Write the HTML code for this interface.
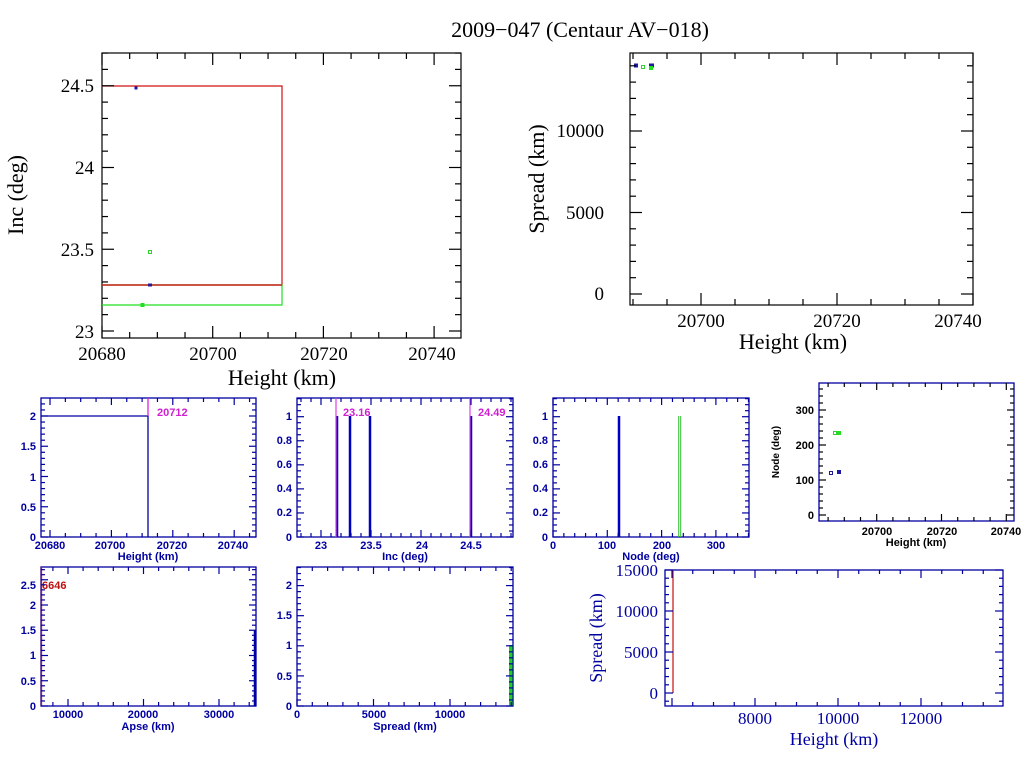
<!DOCTYPE html>
<html><head><meta charset="utf-8"><style>
body{margin:0;background:#fff}
svg{display:block}
.t{font-family:"Liberation Serif",serif;fill:#000}
.s{font-family:"Liberation Sans",sans-serif;font-weight:bold;font-size:11px;fill:#0000a0}
</style></head><body>
<svg id="c" width="1024" height="768" viewBox="0 0 1024 768" xmlns="http://www.w3.org/2000/svg">
<rect width="1024" height="768" fill="#fff"/>
<text class="t" x="580" y="37" font-size="22" text-anchor="middle">2009−047 (Centaur AV−018)</text>

<!-- top left -->
<rect x="102" y="53" width="359" height="285" fill="none" stroke="#000" stroke-width="1.2"/>
<polyline points="102,86 282,86 282,285 102,285" fill="none" stroke="#d01010" stroke-width="1.2"/>
<polyline points="102,285 282,285 282,305 102,305" fill="none" stroke="#20e020" stroke-width="1.2"/>
<line x1="102" y1="285" x2="282" y2="285" stroke="#d01010" stroke-width="1.2"/>
<rect x="134.5" y="86.5" width="3" height="3" fill="#1a1aa0"/>
<rect x="148.5" y="250.5" width="3" height="3" fill="none" stroke="#30d030" stroke-width="1"/>
<rect x="148" y="283.5" width="4" height="3" fill="#2a1a90"/>
<rect x="140.5" y="303" width="4" height="4" fill="#20e020"/>
<g class="t" font-size="19" text-anchor="end">
<text x="94" y="92">24.5</text><text x="94" y="174">24</text><text x="94" y="256">23.5</text><text x="94" y="338">23</text></g>
<g class="t" font-size="19" text-anchor="middle">
<text x="102" y="360">20680</text><text x="213" y="360">20700</text><text x="324" y="360">20720</text><text x="432" y="360">20740</text></g>
<text class="t" font-size="22" x="282" y="385" text-anchor="middle">Height (km)</text>
<text class="t" font-size="22" transform="translate(23,195) rotate(-90)" text-anchor="middle">Inc (deg)</text>

<!-- top right -->
<rect x="630" y="53" width="343" height="252" fill="none" stroke="#000" stroke-width="1.2"/>
<rect x="634" y="63.5" width="4" height="4" fill="#1a1aa0"/>
<rect x="649" y="63.5" width="5" height="4" fill="#1a1aa0"/>
<rect x="641.5" y="65.5" width="3" height="3" fill="none" stroke="#30d030" stroke-width="1"/>
<rect x="649" y="66" width="4" height="4" fill="#20e020"/>
<g class="t" font-size="19" text-anchor="end">
<text x="604" y="137">10000</text><text x="604" y="219">5000</text><text x="604" y="300">0</text></g>
<g class="t" font-size="19" text-anchor="middle">
<text x="701" y="327">20700</text><text x="837" y="327">20720</text><text x="958" y="327">20740</text></g>
<text class="t" font-size="22" x="793" y="349" text-anchor="middle">Height (km)</text>
<text class="t" font-size="22" transform="translate(544,179) rotate(-90)" text-anchor="middle">Spread (km)</text>

<!-- small frames -->
<g fill="none" stroke="#0000a0" stroke-width="1.3">
<rect x="41" y="398" width="215" height="139"/>
<rect x="297" y="398" width="216" height="139"/>
<rect x="553" y="398" width="196" height="139"/>
<rect x="819" y="383" width="195" height="138"/>
<rect x="41" y="567" width="215" height="139"/>
<rect x="297" y="567" width="216" height="139"/>
<rect x="665" y="570" width="338" height="136"/>
</g>

<!-- P1 -->
<polyline points="41,416 148,416 148,537" fill="none" stroke="#0000a0" stroke-width="1.3"/>
<line x1="148" y1="398" x2="148" y2="416" stroke="#e020e0" stroke-width="1.3"/>
<text class="s" x="157" y="416" style="fill:#d020d0">20712</text>
<g class="s" text-anchor="end"><text x="36" y="420">2</text><text x="36" y="450">1.5</text><text x="36" y="481">1</text><text x="36" y="511">0.5</text><text x="36" y="541">0</text></g>
<g class="s" text-anchor="middle"><text x="50" y="549">20680</text><text x="110" y="549">20700</text><text x="172" y="549">20720</text><text x="233" y="549">20740</text></g>
<text class="s" x="148" y="560" text-anchor="middle">Height (km)</text>

<!-- P2 -->
<g stroke-width="2.5" stroke="#0000c0">
<line x1="337" y1="416" x2="337" y2="537"/><line x1="350" y1="416" x2="350" y2="537"/><line x1="370" y1="416" x2="370" y2="537"/><line x1="471" y1="416" x2="471" y2="537"/></g>
<g stroke-width="1.2" stroke="#e040e0"><line x1="336" y1="398" x2="336" y2="537"/><line x1="470" y1="398" x2="470" y2="537"/></g>
<text class="s" x="343" y="416" style="fill:#d020d0">23.16</text>
<text class="s" x="478" y="416" style="fill:#d020d0">24.49</text>
<g class="s" text-anchor="end"><text x="292" y="420">1</text><text x="292" y="444">0.8</text><text x="292" y="468">0.6</text><text x="292" y="492">0.4</text><text x="292" y="516">0.2</text><text x="292" y="541">0</text></g>
<g class="s" text-anchor="middle"><text x="321" y="549">23</text><text x="371" y="549">23.5</text><text x="422" y="549">24</text><text x="471" y="549">24.5</text></g>
<text class="s" x="405" y="560" text-anchor="middle">Inc (deg)</text>

<!-- P3 -->
<line x1="619" y1="416" x2="619" y2="537" stroke="#0000c0" stroke-width="2.5"/>
<line x1="678.7" y1="416" x2="678.7" y2="537" stroke="#30c030" stroke-width="1"/>
<line x1="680.7" y1="416" x2="680.7" y2="537" stroke="#30c030" stroke-width="1"/>
<g class="s" text-anchor="end"><text x="548" y="420">1</text><text x="548" y="444">0.8</text><text x="548" y="468">0.6</text><text x="548" y="492">0.4</text><text x="548" y="516">0.2</text><text x="548" y="541">0</text></g>
<g class="s" text-anchor="middle"><text x="553" y="549">0</text><text x="607" y="549">100</text><text x="662" y="549">200</text><text x="716" y="549">300</text></g>
<text class="s" x="651" y="560" text-anchor="middle">Node (deg)</text>

<!-- P4 -->
<rect x="829.5" y="471.5" width="3" height="3" fill="none" stroke="#1a1aa0" stroke-width="1"/>
<rect x="837" y="470" width="4" height="4" fill="#1a1aa0"/>
<rect x="833.5" y="431.5" width="3" height="3" fill="none" stroke="#30d030" stroke-width="1"/>
<rect x="837" y="431" width="4" height="4" fill="#20e020"/>
<g class="s" text-anchor="end" style="fill:#000"><text x="814" y="414">300</text><text x="814" y="449">200</text><text x="814" y="484">100</text><text x="814" y="519">0</text></g>
<g class="s" text-anchor="middle" style="fill:#000"><text x="877" y="535">20700</text><text x="942" y="535">20720</text><text x="1006" y="535">20740</text></g>
<text class="s" x="916" y="546" text-anchor="middle" style="fill:#000">Height (km)</text>
<text class="s" transform="translate(779,452) rotate(-90)" text-anchor="middle" style="fill:#000;font-size:10px">Node (deg)</text>

<!-- P5 -->
<line x1="41.5" y1="567" x2="41.5" y2="706" stroke="#d01010" stroke-width="1.3"/>
<line x1="255" y1="630" x2="255" y2="706" stroke="#0000a0" stroke-width="2.5"/>
<text class="s" x="42" y="589" style="fill:#c01010">6646</text>
<g class="s" text-anchor="end"><text x="36" y="589">2.5</text><text x="36" y="609">2</text><text x="36" y="634">1.5</text><text x="36" y="659">1</text><text x="36" y="685">0.5</text><text x="36" y="710">0</text></g>
<g class="s" text-anchor="middle"><text x="68" y="718">10000</text><text x="143" y="718">20000</text><text x="219" y="718">30000</text></g>
<text class="s" x="148" y="730" text-anchor="middle">Apse (km)</text>

<!-- P6 -->
<rect x="509" y="645" width="3.5" height="61" fill="#20d020"/>
<g class="s" text-anchor="end"><text x="292" y="589">2</text><text x="292" y="619">1.5</text><text x="292" y="649">1</text><text x="292" y="680">0.5</text><text x="292" y="710">0</text></g>
<g class="s" text-anchor="middle"><text x="297" y="718">0</text><text x="374" y="718">5000</text><text x="450" y="718">10000</text></g>
<text class="s" x="405" y="730" text-anchor="middle">Spread (km)</text>

<!-- P7 -->
<line x1="673" y1="570" x2="673" y2="693" stroke="#c01010" stroke-width="1.2"/>
<g class="t" font-size="17" text-anchor="end" style="fill:#0000a0"><text x="658" y="576">15000</text><text x="658" y="617">10000</text><text x="658" y="658">5000</text><text x="658" y="699">0</text></g>
<g class="t" font-size="17" text-anchor="middle" style="fill:#0000a0"><text x="755" y="724">8000</text><text x="838" y="724">10000</text><text x="921" y="724">12000</text></g>
<text class="t" font-size="18" x="834" y="745" text-anchor="middle" style="fill:#0000a0">Height (km)</text>
<text class="t" font-size="18" transform="translate(602,638) rotate(-90)" text-anchor="middle" style="fill:#0000a0">Spread (km)</text>

<g id="ticks"></g>
</svg>
<script>
var g=document.getElementById('ticks'),ns='http://www.w3.org/2000/svg';
function L(a,b,c,d,col){var l=document.createElementNS(ns,'line');l.setAttribute('x1',a);l.setAttribute('y1',b);l.setAttribute('x2',c);l.setAttribute('y2',d);l.setAttribute('stroke',col);l.setAttribute('stroke-width','1.2');g.appendChild(l);}
function ax(F,xs,ys,col,M,m){
 var x0=F[0],y0=F[1],x1=F[2],y1=F[3],k;
 for(k=Math.ceil((x0-xs[1])/xs[2]/xs[3]-1e-6);;k++){var val=xs[0]+k*xs[3];var p=xs[1]+k*xs[3]*xs[2];if(p>x1+0.1)break;if(p<x0-0.1)continue;var maj=Math.abs(val/xs[4]-Math.round(val/xs[4]))<1e-6;var len=maj?M:m;L(p,y1,p,y1-len,col);L(p,y0,p,y0+len,col);}
 for(k=Math.ceil((ys[1]-y1)/ys[2]/ys[3]-1e-6);;k++){var val=ys[0]+k*ys[3];var p=ys[1]-k*ys[3]*ys[2];if(p<y0-0.1)break;if(p>y1+0.1)continue;var maj=Math.abs(val/ys[4]-Math.round(val/ys[4]))<1e-6;var len=maj?M:m;L(x0,p,x0+len,p,col);L(x1,p,x1-len,p,col);}
}
ax([102,53,461,338],[20680,102,5.535,5,20],[23,331,163.5,0.1,0.5],'#000',12,6);
ax([630,53,973,305],[20700,701,6.8,5,20],[0,294,0.0163,1000,5000],'#000',12,6);
var B='#0000a0';
ax([41,398,256,537],[20680,50,3.07,5,20],[0,537,60.5,0.1,0.5],B,7,4);
ax([297,398,513,537],[23,321,100,0.1,0.5],[0,537,120.3,0.05,0.2],B,7,4);
ax([553,398,749,537],[0,553,0.543,20,100],[0,537,120.3,0.05,0.2],B,7,4);
ax([819,383,1014,521],[20700,876.7,3.24,5,20],[0,515,0.35,20,100],'#000',7,4);
ax([41,567,256,706],[10000,68,0.00755,2000,10000],[0,706,50.5,0.1,0.5],B,7,4);
ax([297,567,513,706],[0,297,0.0153,1000,5000],[0,706,60.2,0.1,0.5],B,7,4);
ax([665,570,1003,706],[8000,755,0.0415,500,2000],[0,693,0.0082,1000,5000],B,8,4);
</script>
</body></html>
